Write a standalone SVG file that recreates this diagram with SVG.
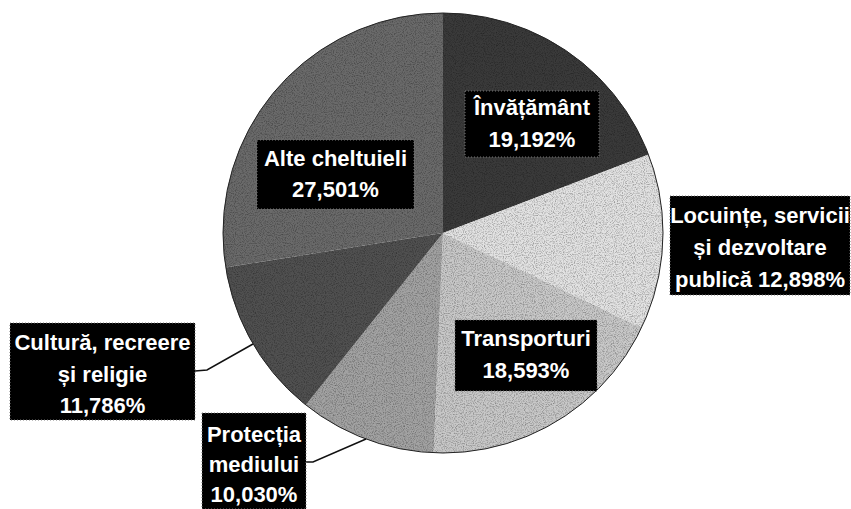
<svg xmlns="http://www.w3.org/2000/svg" width="851" height="509" viewBox="0 0 851 509">
<style>
.lbl{fill:#000;stroke:#777;stroke-width:1;stroke-dasharray:1 2}
.t{font-family:"Liberation Sans",Arial,sans-serif;font-weight:bold;font-size:22px;fill:#fff;text-anchor:middle}
.lead{fill:none;stroke:#111;stroke-width:1.5}
.sl{stroke:none}
</style>
<defs>
<filter id="grain" x="0" y="0" width="100%" height="100%">
<feTurbulence type="fractalNoise" baseFrequency="0.9" numOctaves="2" seed="3" result="n"/>
<feColorMatrix in="n" type="matrix" values="0 0 0 0 0  0 0 0 0 0  0 0 0 0 0  0 0 0 -2.2 1.25" result="a"/>
<feComposite in="a" in2="SourceGraphic" operator="in"/>
</filter>
<clipPath id="pieclip"><circle cx="443" cy="233" r="220"/></clipPath>
</defs>
<rect width="851" height="509" fill="#fff"/>
<g id="pie">
<g id="slice-invatamant"><path class="sl" d="M443,233 L443,13 A220,220 0 0 1 648.5,154.5 Z" fill="#3a3a3a"/></g>
<g id="slice-locuinte"><path class="sl" d="M443,233 L648.5,154.5 A220,220 0 0 1 641.5,327.8 Z" fill="#e2e2e2"/></g>
<g id="slice-transporturi"><path class="sl" d="M443,233 L641.5,327.8 A220,220 0 0 1 433.6,452.8 Z" fill="#c8c8c8"/></g>
<g id="slice-protectia"><path class="sl" d="M443,233 L433.6,452.8 A220,220 0 0 1 305.8,405 Z" fill="#a2a2a2"/></g>
<g id="slice-cultura"><path class="sl" d="M443,233 L305.8,405 A220,220 0 0 1 225.7,267.4 Z" fill="#505050"/></g>
<g id="slice-alte"><path class="sl" d="M443,233 L225.7,267.4 A220,220 0 0 1 443,13 Z" fill="#6a6a6a"/></g>
<rect x="223" y="13" width="440" height="440" fill="#000" opacity="0.35" filter="url(#grain)" clip-path="url(#pieclip)"/>
<circle cx="443" cy="233" r="220" fill="none" stroke="#222" stroke-width="1"/>
</g>
<g id="connectors">
<polyline class="lead" points="195,371 207,370 253,344"/>
<polyline class="lead" points="306,462 313,462 366,439"/>
</g>
<g id="label-invatamant">
<rect class="lbl" x="465" y="91" width="134" height="66"/>
<text class="t" x="532" y="115">Învățământ</text>
<text class="t" x="532" y="147">19,192%</text>
</g>
<g id="label-alte">
<rect class="lbl" x="257" y="140" width="157" height="69"/>
<text class="t" x="335.5" y="166">Alte cheltuieli</text>
<text class="t" x="335.5" y="197">27,501%</text>
</g>
<g id="label-locuinte">
<rect class="lbl" x="670" y="196" width="180" height="99"/>
<text class="t" x="760" y="223">Locuințe, servicii</text>
<text class="t" x="760" y="255">și dezvoltare</text>
<text class="t" x="760" y="287">publică 12,898%</text>
</g>
<g id="label-transporturi">
<rect class="lbl" x="455" y="320" width="142" height="71"/>
<text class="t" x="526" y="346">Transporturi</text>
<text class="t" x="526" y="378">18,593%</text>
</g>
<g id="label-cultura">
<rect class="lbl" x="10" y="323" width="185" height="97"/>
<text class="t" x="102.5" y="350">Cultură, recreere</text>
<text class="t" x="102.5" y="382">și religie</text>
<text class="t" x="102.5" y="413">11,786%</text>
</g>
<g id="label-protectia">
<rect class="lbl" x="202" y="413" width="104" height="96"/>
<text class="t" x="254" y="442">Protecția</text>
<text class="t" x="254" y="472">mediului</text>
<text class="t" x="254" y="502">10,030%</text>
</g>
</svg>
